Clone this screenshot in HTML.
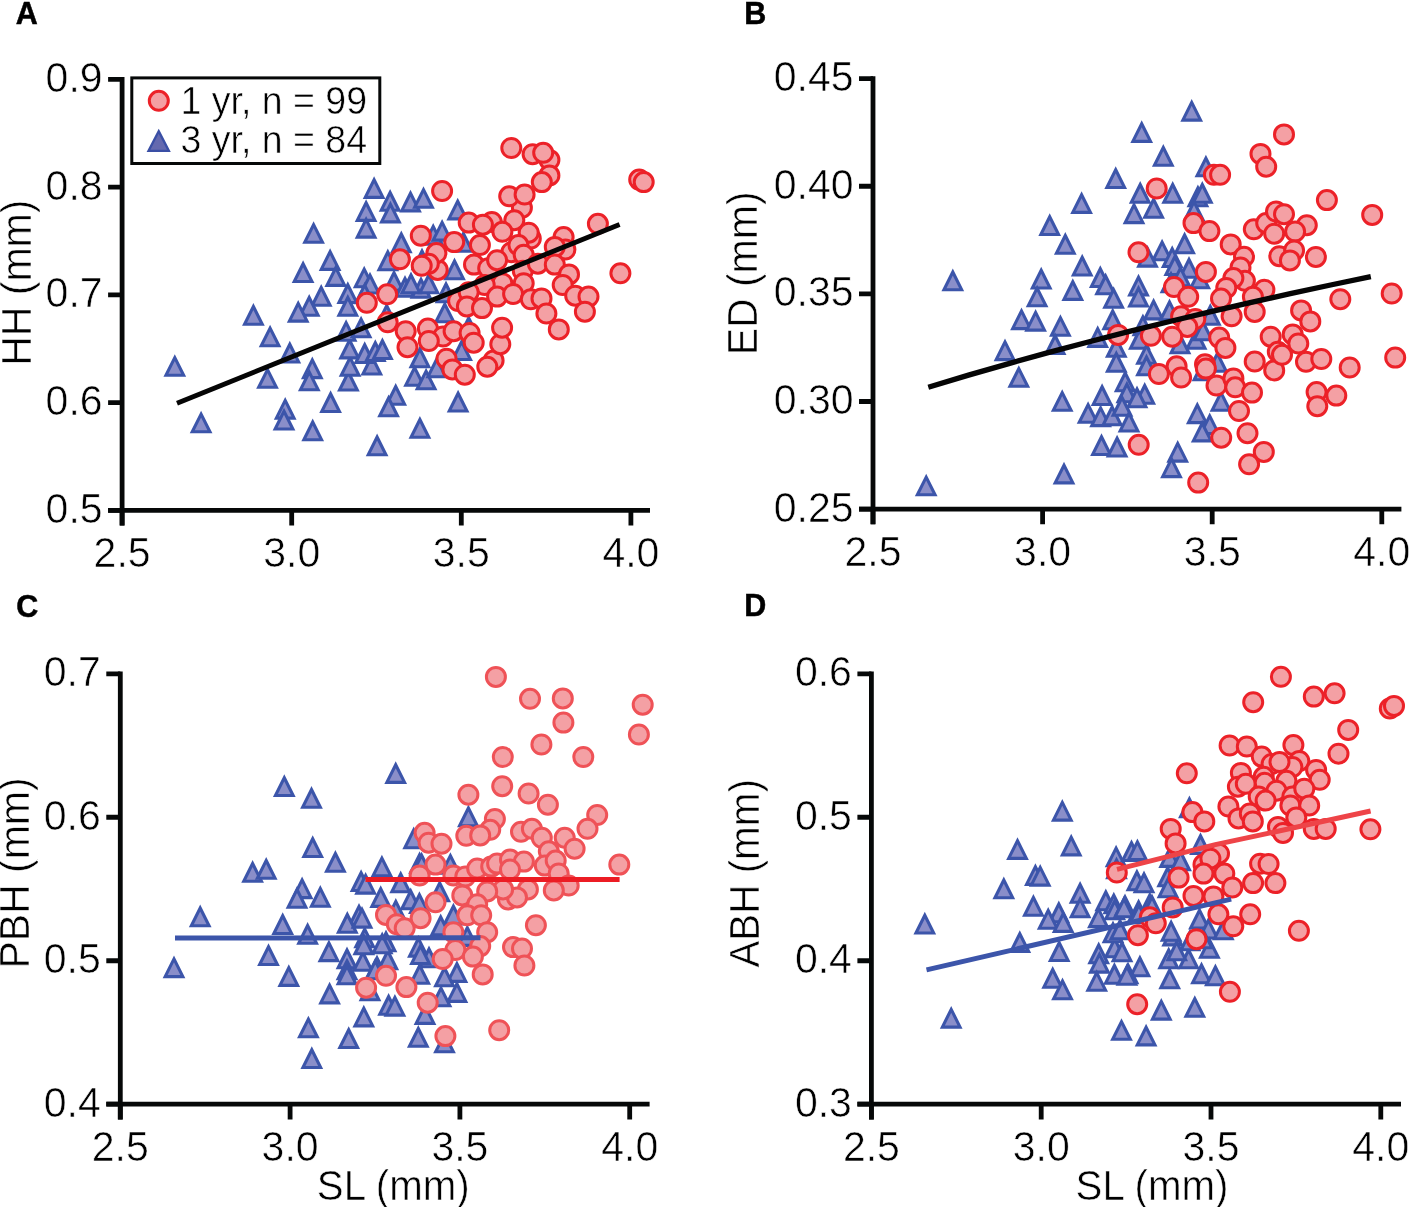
<!DOCTYPE html><html><head><meta charset="utf-8"><style>html,body{margin:0;padding:0;background:#fff;}svg{display:block;will-change:transform}text{font-family:"Liberation Sans", sans-serif;}</style></head><body>
<svg width="1409" height="1207" viewBox="0 0 1409 1207">
<defs><path id="t" d="M0,-8.0 L8.85,9.7 L-8.85,9.7 Z" fill="#8a8ec9" stroke="#3c55aa" stroke-width="3.1" stroke-linejoin="miter"/><circle id="c" r="9.5" fill="#f4a0a4" stroke="#ec2128" stroke-width="3.0"/><circle id="c2" r="9.5" fill="#f4a0a4" stroke="#ef5257" stroke-width="3.0"/></defs>
<rect width="100%" height="100%" fill="#fff"/>
<use href="#t" x="374.1" y="187.7"/>
<use href="#t" x="390.1" y="200.5"/>
<use href="#t" x="366.1" y="210.7"/>
<use href="#t" x="390.4" y="212.2"/>
<use href="#t" x="366.1" y="227.4"/>
<use href="#t" x="313.6" y="232.6"/>
<use href="#t" x="330.1" y="259.7"/>
<use href="#t" x="303.1" y="271.8"/>
<use href="#t" x="335.8" y="275.7"/>
<use href="#t" x="364.2" y="277.1"/>
<use href="#t" x="370" y="283.3"/>
<use href="#t" x="387.8" y="260"/>
<use href="#t" x="394" y="280.7"/>
<use href="#t" x="321.2" y="295.5"/>
<use href="#t" x="309.2" y="305.5"/>
<use href="#t" x="298.2" y="311.4"/>
<use href="#t" x="253.4" y="314.5"/>
<use href="#t" x="347.8" y="292.8"/>
<use href="#t" x="347.8" y="305.5"/>
<use href="#t" x="364.7" y="293.1"/>
<use href="#t" x="174.8" y="365.6"/>
<use href="#t" x="201.1" y="422.1"/>
<use href="#t" x="270.1" y="336.1"/>
<use href="#t" x="289.8" y="352.3"/>
<use href="#t" x="267.5" y="377.6"/>
<use href="#t" x="312.3" y="367.9"/>
<use href="#t" x="309.3" y="380.1"/>
<use href="#t" x="285.2" y="408.4"/>
<use href="#t" x="284" y="419.3"/>
<use href="#t" x="330.6" y="401.8"/>
<use href="#t" x="312.7" y="430"/>
<use href="#t" x="377.1" y="445"/>
<use href="#t" x="395.7" y="394.5"/>
<use href="#t" x="388.6" y="406"/>
<use href="#t" x="348.4" y="380.3"/>
<use href="#t" x="350.1" y="365.6"/>
<use href="#t" x="371.8" y="364.3"/>
<use href="#t" x="349.6" y="348.2"/>
<use href="#t" x="364.7" y="352.8"/>
<use href="#t" x="375.3" y="350.8"/>
<use href="#t" x="382.4" y="348.8"/>
<use href="#t" x="346.1" y="330.6"/>
<use href="#t" x="361.1" y="327.1"/>
<use href="#t" x="410.5" y="201.2"/>
<use href="#t" x="423.5" y="197.6"/>
<use href="#t" x="457.7" y="209.2"/>
<use href="#t" x="401.3" y="242"/>
<use href="#t" x="433.2" y="234.4"/>
<use href="#t" x="442.1" y="230.4"/>
<use href="#t" x="463.4" y="241.5"/>
<use href="#t" x="422" y="259"/>
<use href="#t" x="454.5" y="269"/>
<use href="#t" x="405" y="286.5"/>
<use href="#t" x="421" y="287.5"/>
<use href="#t" x="411" y="283"/>
<use href="#t" x="428.8" y="283"/>
<use href="#t" x="446" y="292"/>
<use href="#t" x="386.7" y="313.7"/>
<use href="#t" x="444.8" y="312.1"/>
<use href="#t" x="468.7" y="326"/>
<use href="#t" x="419.9" y="357"/>
<use href="#t" x="461.6" y="349.8"/>
<use href="#t" x="414.6" y="375.6"/>
<use href="#t" x="426.1" y="379.1"/>
<use href="#t" x="436.8" y="367"/>
<use href="#t" x="458.1" y="401.3"/>
<use href="#t" x="419.9" y="427.5"/>
<use href="#c" x="366.8" y="302.8"/>
<use href="#c" x="387.2" y="294.3"/>
<use href="#c" x="387.7" y="322.3"/>
<use href="#c" x="511.3" y="148"/>
<use href="#c" x="532.6" y="154.2"/>
<use href="#c" x="549.4" y="159.9"/>
<use href="#c" x="543.2" y="152.8"/>
<use href="#c" x="549.4" y="175.4"/>
<use href="#c" x="541.8" y="182.1"/>
<use href="#c" x="442.1" y="191"/>
<use href="#c" x="521.9" y="207.8"/>
<use href="#c" x="509.2" y="196.3"/>
<use href="#c" x="524.6" y="194.5"/>
<use href="#c" x="491.8" y="222"/>
<use href="#c" x="468.7" y="222.6"/>
<use href="#c" x="482.9" y="224.7"/>
<use href="#c" x="514.3" y="220.2"/>
<use href="#c" x="502.4" y="231.8"/>
<use href="#c" x="530.8" y="238.5"/>
<use href="#c" x="528.7" y="232.7"/>
<use href="#c" x="420.8" y="235.7"/>
<use href="#c" x="454.2" y="242.1"/>
<use href="#c" x="479.9" y="245.1"/>
<use href="#c" x="511.3" y="252.2"/>
<use href="#c" x="518.4" y="245.1"/>
<use href="#c" x="597.9" y="223.8"/>
<use href="#c" x="563.6" y="237.1"/>
<use href="#c" x="565.4" y="249.5"/>
<use href="#c" x="554.8" y="246.9"/>
<use href="#c" x="437.7" y="269.9"/>
<use href="#c" x="436.4" y="253.1"/>
<use href="#c" x="399.9" y="259.3"/>
<use href="#c" x="428.8" y="263.7"/>
<use href="#c" x="421.7" y="265.8"/>
<use href="#c" x="474" y="264.6"/>
<use href="#c" x="488.2" y="268.2"/>
<use href="#c" x="497.1" y="260.2"/>
<use href="#c" x="523.7" y="254.8"/>
<use href="#c" x="522.8" y="270.8"/>
<use href="#c" x="537.9" y="263.7"/>
<use href="#c" x="554.8" y="264.6"/>
<use href="#c" x="569" y="274.4"/>
<use href="#c" x="620.4" y="273.3"/>
<use href="#c" x="639.2" y="179.6"/>
<use href="#c" x="643.7" y="182.1"/>
<use href="#c" x="502.4" y="283.2"/>
<use href="#c" x="484.7" y="285"/>
<use href="#c" x="562.7" y="285"/>
<use href="#c" x="523.7" y="283.2"/>
<use href="#c" x="405.7" y="331.2"/>
<use href="#c" x="407.5" y="347.2"/>
<use href="#c" x="427.9" y="328.6"/>
<use href="#c" x="443" y="336.5"/>
<use href="#c" x="428.8" y="341"/>
<use href="#c" x="453.6" y="331.2"/>
<use href="#c" x="469.6" y="333"/>
<use href="#c" x="473.7" y="342.7"/>
<use href="#c" x="446.5" y="358.7"/>
<use href="#c" x="452.4" y="369.4"/>
<use href="#c" x="464.8" y="374.7"/>
<use href="#c" x="493.6" y="360.5"/>
<use href="#c" x="487.3" y="366.7"/>
<use href="#c" x="500.3" y="344.2"/>
<use href="#c" x="502.1" y="327.7"/>
<use href="#c" x="458.1" y="301"/>
<use href="#c" x="468.7" y="292.2"/>
<use href="#c" x="466.9" y="306.4"/>
<use href="#c" x="482" y="308.1"/>
<use href="#c" x="497.1" y="296.6"/>
<use href="#c" x="513.1" y="294"/>
<use href="#c" x="530.8" y="299.3"/>
<use href="#c" x="541.5" y="298.4"/>
<use href="#c" x="546.4" y="313.5"/>
<use href="#c" x="558.8" y="329.4"/>
<use href="#c" x="575.2" y="295.7"/>
<use href="#c" x="588.5" y="296.6"/>
<use href="#c" x="584.9" y="311.7"/>
<path d="M177.0,403.2 L619.6,224.5" fill="none" stroke="#050505" stroke-width="4.9" stroke-linecap="butt" stroke-linejoin="round"/>
<path d="M122.1,77.0 L122.1,525.6 M108.1,510.4 L650,510.4" stroke="#060808" stroke-width="4.8" fill="none"/>
<path d="M108.1,79.3 L122.1,79.3 M108.1,187.075 L122.1,187.075 M108.1,294.84999999999997 L122.1,294.84999999999997 M108.1,402.625 L122.1,402.625 M108.1,510.4 L122.1,510.4 M122.1,510.4 L122.1,525.6 M291.7,510.4 L291.7,525.6 M461.29999999999995,510.4 L461.29999999999995,525.6 M630.9,510.4 L630.9,525.6" stroke="#060808" stroke-width="4.8" fill="none"/>
<text transform="translate(102.60,91.80) scale(1,1.04)" font-size="41" text-anchor="end" fill="#000" stroke="#fff" stroke-width="0.55" class="tx">0.9</text>
<text transform="translate(102.60,199.57) scale(1,1.04)" font-size="41" text-anchor="end" fill="#000" stroke="#fff" stroke-width="0.55" class="tx">0.8</text>
<text transform="translate(102.60,307.35) scale(1,1.04)" font-size="41" text-anchor="end" fill="#000" stroke="#fff" stroke-width="0.55" class="tx">0.7</text>
<text transform="translate(102.60,415.12) scale(1,1.04)" font-size="41" text-anchor="end" fill="#000" stroke="#fff" stroke-width="0.55" class="tx">0.6</text>
<text transform="translate(102.60,522.90) scale(1,1.04)" font-size="41" text-anchor="end" fill="#000" stroke="#fff" stroke-width="0.55" class="tx">0.5</text>
<text transform="translate(122.10,567.00) scale(1,1.04)" font-size="41" text-anchor="middle" fill="#000" stroke="#fff" stroke-width="0.55" class="tx">2.5</text>
<text transform="translate(291.70,567.00) scale(1,1.04)" font-size="41" text-anchor="middle" fill="#000" stroke="#fff" stroke-width="0.55" class="tx">3.0</text>
<text transform="translate(461.30,567.00) scale(1,1.04)" font-size="41" text-anchor="middle" fill="#000" stroke="#fff" stroke-width="0.55" class="tx">3.5</text>
<text transform="translate(630.90,567.00) scale(1,1.04)" font-size="41" text-anchor="middle" fill="#000" stroke="#fff" stroke-width="0.55" class="tx">4.0</text>
<text transform="translate(15.70,24.30) scale(1,1.02)" font-size="30.5" font-weight="bold" fill="#000" stroke="#000" stroke-width="0.5" class="tx">A</text>
<text transform="translate(30.60,282.70) rotate(-90) scale(1,1.04)" font-size="41" text-anchor="middle" fill="#000" stroke="#fff" stroke-width="0.55" class="tx">HH (mm)</text>
<use href="#t" x="1115.7" y="177.8"/>
<use href="#t" x="1081.6" y="202.7"/>
<use href="#t" x="1049.7" y="224.8"/>
<use href="#t" x="1065.3" y="243.5"/>
<use href="#t" x="1191.7" y="110.4"/>
<use href="#t" x="1141.7" y="131.7"/>
<use href="#t" x="1163.3" y="155.5"/>
<use href="#t" x="1205.9" y="166.1"/>
<use href="#t" x="1140.2" y="192.5"/>
<use href="#t" x="1172.7" y="192.5"/>
<use href="#t" x="1153.6" y="207.5"/>
<use href="#t" x="1134" y="212.9"/>
<use href="#t" x="1197.9" y="196"/>
<use href="#t" x="1202.3" y="192.5"/>
<use href="#t" x="1194" y="209.8"/>
<use href="#t" x="1184.6" y="243"/>
<use href="#t" x="1162.1" y="250.1"/>
<use href="#t" x="1172.2" y="256.8"/>
<use href="#t" x="1082.2" y="265.3"/>
<use href="#t" x="1100.3" y="276.8"/>
<use href="#t" x="1105.6" y="284"/>
<use href="#t" x="1072.8" y="289.7"/>
<use href="#t" x="1113.6" y="297.6"/>
<use href="#t" x="1138.5" y="285.2"/>
<use href="#t" x="1138.5" y="296.3"/>
<use href="#t" x="1060.4" y="325.6"/>
<use href="#t" x="1055.1" y="343.8"/>
<use href="#t" x="1112.7" y="319"/>
<use href="#t" x="1097.7" y="336.7"/>
<use href="#t" x="1153.6" y="309.2"/>
<use href="#t" x="1142.9" y="324.9"/>
<use href="#t" x="1169.5" y="310"/>
<use href="#t" x="1139.4" y="338.5"/>
<use href="#t" x="1116.3" y="346.5"/>
<use href="#t" x="1116.3" y="361.5"/>
<use href="#t" x="1146.5" y="353.6"/>
<use href="#t" x="1146.5" y="365"/>
<use href="#t" x="1125.2" y="381"/>
<use href="#t" x="1126.9" y="392.1"/>
<use href="#t" x="1102.1" y="394.8"/>
<use href="#t" x="1144.7" y="393.5"/>
<use href="#t" x="1062.2" y="400.6"/>
<use href="#t" x="1174.8" y="264.8"/>
<use href="#t" x="1189" y="267.5"/>
<use href="#t" x="1147.5" y="256.4"/>
<use href="#t" x="1171" y="282"/>
<use href="#t" x="1180.5" y="276.1"/>
<use href="#t" x="1199.7" y="278.1"/>
<use href="#t" x="1210.3" y="314.5"/>
<use href="#t" x="1196.1" y="338.5"/>
<use href="#t" x="1180" y="343"/>
<use href="#t" x="1203" y="330"/>
<use href="#t" x="1217.4" y="361.5"/>
<use href="#t" x="1203" y="370"/>
<use href="#t" x="1221" y="400.6"/>
<use href="#t" x="952.8" y="280"/>
<use href="#t" x="1041.2" y="278.3"/>
<use href="#t" x="1037.1" y="296.1"/>
<use href="#t" x="1021.5" y="318.9"/>
<use href="#t" x="1035.6" y="320.4"/>
<use href="#t" x="1005" y="349.9"/>
<use href="#t" x="1018.8" y="376.6"/>
<use href="#t" x="1064" y="473.2"/>
<use href="#t" x="926.2" y="485.1"/>
<use href="#t" x="1088.1" y="412.6"/>
<use href="#t" x="1100.6" y="415.9"/>
<use href="#t" x="1112.1" y="415"/>
<use href="#t" x="1137" y="397"/>
<use href="#t" x="1122" y="405.5"/>
<use href="#t" x="1129" y="421.3"/>
<use href="#t" x="1101.5" y="444.8"/>
<use href="#t" x="1117.1" y="446.3"/>
<use href="#t" x="1197.3" y="412.9"/>
<use href="#t" x="1209.7" y="423.9"/>
<use href="#t" x="1202.2" y="431.2"/>
<use href="#t" x="1177.7" y="451.4"/>
<use href="#t" x="1171.5" y="466.9"/>
<use href="#c" x="1284" y="134.4"/>
<use href="#c" x="1260.5" y="153.9"/>
<use href="#c" x="1266.2" y="166.7"/>
<use href="#c" x="1213.9" y="174.8"/>
<use href="#c" x="1220.1" y="174.8"/>
<use href="#c" x="1156.7" y="188.5"/>
<use href="#c" x="1193.5" y="223.1"/>
<use href="#c" x="1209.4" y="231.1"/>
<use href="#c" x="1230.7" y="244.4"/>
<use href="#c" x="1253.8" y="229.3"/>
<use href="#c" x="1266.2" y="223.1"/>
<use href="#c" x="1276" y="211.5"/>
<use href="#c" x="1284" y="214.2"/>
<use href="#c" x="1274.2" y="233.7"/>
<use href="#c" x="1138.5" y="252.3"/>
<use href="#c" x="1326.9" y="200.1"/>
<use href="#c" x="1372.2" y="214.9"/>
<use href="#c" x="1306.8" y="225.2"/>
<use href="#c" x="1295.1" y="231.5"/>
<use href="#c" x="1244" y="256.8"/>
<use href="#c" x="1279.3" y="256.2"/>
<use href="#c" x="1294.1" y="250.5"/>
<use href="#c" x="1315.9" y="256.9"/>
<use href="#c" x="1205.9" y="271.9"/>
<use href="#c" x="1240.5" y="267.5"/>
<use href="#c" x="1244.9" y="280.8"/>
<use href="#c" x="1233.4" y="278.1"/>
<use href="#c" x="1226.3" y="287.9"/>
<use href="#c" x="1221" y="298.6"/>
<use href="#c" x="1264.4" y="289.7"/>
<use href="#c" x="1252.9" y="296.8"/>
<use href="#c" x="1254.7" y="311.9"/>
<use href="#c" x="1231.6" y="316.3"/>
<use href="#c" x="1174" y="287"/>
<use href="#c" x="1188.2" y="296.8"/>
<use href="#c" x="1181.1" y="316.3"/>
<use href="#c" x="1195.3" y="319"/>
<use href="#c" x="1187.3" y="326.9"/>
<use href="#c" x="1118.1" y="334.9"/>
<use href="#c" x="1150.9" y="335.8"/>
<use href="#c" x="1172.2" y="336.7"/>
<use href="#c" x="1219.2" y="337.6"/>
<use href="#c" x="1225.4" y="347.9"/>
<use href="#c" x="1270.7" y="336.7"/>
<use href="#c" x="1292.7" y="334.4"/>
<use href="#c" x="1277.8" y="351.8"/>
<use href="#c" x="1254.7" y="361.5"/>
<use href="#c" x="1274.2" y="370.4"/>
<use href="#c" x="1158.9" y="374"/>
<use href="#c" x="1176.6" y="366.3"/>
<use href="#c" x="1181.1" y="377.5"/>
<use href="#c" x="1205" y="364.2"/>
<use href="#c" x="1205.9" y="368.6"/>
<use href="#c" x="1216.5" y="385.5"/>
<use href="#c" x="1233.4" y="378.4"/>
<use href="#c" x="1235.2" y="387.3"/>
<use href="#c" x="1252" y="392.6"/>
<use href="#c" x="1239" y="411"/>
<use href="#c" x="1289.9" y="260.4"/>
<use href="#c" x="1301.1" y="310.4"/>
<use href="#c" x="1310.3" y="321.4"/>
<use href="#c" x="1340.3" y="299.2"/>
<use href="#c" x="1391.7" y="293.5"/>
<use href="#c" x="1298.3" y="343.5"/>
<use href="#c" x="1282" y="354.8"/>
<use href="#c" x="1306" y="361.8"/>
<use href="#c" x="1321.3" y="359"/>
<use href="#c" x="1349.7" y="367.5"/>
<use href="#c" x="1395.2" y="357.6"/>
<use href="#c" x="1316.6" y="392.1"/>
<use href="#c" x="1336.3" y="395.6"/>
<use href="#c" x="1317.3" y="406.2"/>
<use href="#c" x="1138.7" y="444.8"/>
<use href="#c" x="1221.2" y="437.7"/>
<use href="#c" x="1247.5" y="433.2"/>
<use href="#c" x="1263.8" y="451.9"/>
<use href="#c" x="1249.1" y="464.3"/>
<use href="#c" x="1198.2" y="482.6"/>
<path d="M928.3,387.2 L968.5,375.1 L1008.8,363.6 L1049.0,352.4 L1089.2,341.7 L1129.4,331.4 L1169.7,321.5 L1209.9,311.9 L1250.1,302.6 L1290.3,293.7 L1330.6,285.0 L1370.8,276.6" fill="none" stroke="#050505" stroke-width="5.3" stroke-linecap="butt" stroke-linejoin="round"/>
<path d="M873.0,76.3 L873.0,524.3000000000001 M859.0,509.1 L1401.4,509.1" stroke="#060808" stroke-width="4.8" fill="none"/>
<path d="M859.0,78.6 L873.0,78.6 M859.0,186.225 L873.0,186.225 M859.0,293.85 L873.0,293.85 M859.0,401.475 L873.0,401.475 M859.0,509.1 L873.0,509.1 M873.0,509.1 L873.0,524.3000000000001 M1042.6,509.1 L1042.6,524.3000000000001 M1212.2,509.1 L1212.2,524.3000000000001 M1381.8,509.1 L1381.8,524.3000000000001" stroke="#060808" stroke-width="4.8" fill="none"/>
<text transform="translate(853.50,91.10) scale(1,1.04)" font-size="41" text-anchor="end" fill="#000" stroke="#fff" stroke-width="0.55" class="tx">0.45</text>
<text transform="translate(853.50,198.72) scale(1,1.04)" font-size="41" text-anchor="end" fill="#000" stroke="#fff" stroke-width="0.55" class="tx">0.40</text>
<text transform="translate(853.50,306.35) scale(1,1.04)" font-size="41" text-anchor="end" fill="#000" stroke="#fff" stroke-width="0.55" class="tx">0.35</text>
<text transform="translate(853.50,413.98) scale(1,1.04)" font-size="41" text-anchor="end" fill="#000" stroke="#fff" stroke-width="0.55" class="tx">0.30</text>
<text transform="translate(853.50,521.60) scale(1,1.04)" font-size="41" text-anchor="end" fill="#000" stroke="#fff" stroke-width="0.55" class="tx">0.25</text>
<text transform="translate(873.00,565.70) scale(1,1.04)" font-size="41" text-anchor="middle" fill="#000" stroke="#fff" stroke-width="0.55" class="tx">2.5</text>
<text transform="translate(1042.60,565.70) scale(1,1.04)" font-size="41" text-anchor="middle" fill="#000" stroke="#fff" stroke-width="0.55" class="tx">3.0</text>
<text transform="translate(1212.20,565.70) scale(1,1.04)" font-size="41" text-anchor="middle" fill="#000" stroke="#fff" stroke-width="0.55" class="tx">3.5</text>
<text transform="translate(1381.80,565.70) scale(1,1.04)" font-size="41" text-anchor="middle" fill="#000" stroke="#fff" stroke-width="0.55" class="tx">4.0</text>
<text transform="translate(744.30,24.40) scale(1,1.02)" font-size="30.5" font-weight="bold" fill="#000" stroke="#000" stroke-width="0.5" class="tx">B</text>
<text transform="translate(756.80,273.40) rotate(-90) scale(1,1.04)" font-size="41" text-anchor="middle" fill="#000" stroke="#fff" stroke-width="0.55" class="tx">ED (mm)</text>
<use href="#t" x="284.3" y="785.8"/>
<use href="#t" x="311.5" y="797.5"/>
<use href="#t" x="395.7" y="772.7"/>
<use href="#t" x="468.4" y="816"/>
<use href="#t" x="312.7" y="846.8"/>
<use href="#t" x="335.4" y="861.5"/>
<use href="#t" x="252.6" y="871.5"/>
<use href="#t" x="266.2" y="868.5"/>
<use href="#t" x="381.9" y="866.1"/>
<use href="#t" x="302.1" y="887.9"/>
<use href="#t" x="297" y="897.5"/>
<use href="#t" x="320.3" y="896.5"/>
<use href="#t" x="200.2" y="916"/>
<use href="#t" x="282.7" y="923.8"/>
<use href="#t" x="307.6" y="933.5"/>
<use href="#t" x="268.5" y="954.8"/>
<use href="#t" x="174" y="966.9"/>
<use href="#t" x="288.8" y="975.7"/>
<use href="#t" x="328.9" y="950.9"/>
<use href="#t" x="361.1" y="880.8"/>
<use href="#t" x="365.6" y="883.4"/>
<use href="#t" x="380.7" y="896.7"/>
<use href="#t" x="359" y="914.5"/>
<use href="#t" x="347.3" y="922.5"/>
<use href="#t" x="364.7" y="937.1"/>
<use href="#t" x="347" y="958"/>
<use href="#t" x="362.9" y="960.6"/>
<use href="#t" x="347" y="969"/>
<use href="#t" x="386" y="941"/>
<use href="#t" x="387.8" y="959"/>
<use href="#t" x="377" y="966"/>
<use href="#t" x="413.7" y="838"/>
<use href="#t" x="419.6" y="862.6"/>
<use href="#t" x="450.4" y="863.6"/>
<use href="#t" x="400.7" y="882"/>
<use href="#t" x="410.7" y="899"/>
<use href="#t" x="453.4" y="914.3"/>
<use href="#t" x="395.8" y="909.4"/>
<use href="#t" x="362" y="917.4"/>
<use href="#t" x="421.6" y="863.3"/>
<use href="#t" x="419.4" y="902.7"/>
<use href="#t" x="439.7" y="891"/>
<use href="#t" x="440.7" y="925"/>
<use href="#t" x="382.2" y="943"/>
<use href="#t" x="418.4" y="946.4"/>
<use href="#t" x="467.3" y="935.7"/>
<use href="#t" x="429" y="957"/>
<use href="#t" x="420.5" y="953.8"/>
<use href="#t" x="329.6" y="993.2"/>
<use href="#t" x="308.4" y="1027.1"/>
<use href="#t" x="311.8" y="1057.8"/>
<use href="#t" x="348.7" y="1037.8"/>
<use href="#t" x="363.8" y="1016.2"/>
<use href="#t" x="388.6" y="1004.5"/>
<use href="#t" x="394.9" y="1005.4"/>
<use href="#t" x="370" y="990"/>
<use href="#t" x="347" y="974"/>
<use href="#t" x="375.3" y="969"/>
<use href="#t" x="363.8" y="944"/>
<use href="#t" x="419.7" y="973.5"/>
<use href="#t" x="456.9" y="971.7"/>
<use href="#t" x="444.5" y="976"/>
<use href="#t" x="456.9" y="991.7"/>
<use href="#t" x="441" y="996.1"/>
<use href="#t" x="425" y="1013.7"/>
<use href="#t" x="418.3" y="1036.5"/>
<use href="#t" x="444.5" y="1042.1"/>
<use href="#c2" x="495.9" y="676.9"/>
<use href="#c2" x="530" y="698.8"/>
<use href="#c2" x="562.8" y="698.4"/>
<use href="#c2" x="563.4" y="722.6"/>
<use href="#c2" x="541.4" y="744.5"/>
<use href="#c2" x="502.8" y="757"/>
<use href="#c2" x="583.3" y="757"/>
<use href="#c2" x="642.7" y="704.7"/>
<use href="#c2" x="638.9" y="734.5"/>
<use href="#c2" x="502.2" y="786.2"/>
<use href="#c2" x="468.4" y="794.7"/>
<use href="#c2" x="528.6" y="793.5"/>
<use href="#c2" x="547.9" y="804.7"/>
<use href="#c2" x="494.9" y="819"/>
<use href="#c2" x="597.2" y="815"/>
<use href="#c2" x="587.5" y="828.8"/>
<use href="#c2" x="490.2" y="829.8"/>
<use href="#c2" x="466.3" y="835.8"/>
<use href="#c2" x="480.2" y="835.4"/>
<use href="#c2" x="521" y="831.8"/>
<use href="#c2" x="531.9" y="828.8"/>
<use href="#c2" x="541.8" y="837.8"/>
<use href="#c2" x="564.7" y="837.8"/>
<use href="#c2" x="574.6" y="848.7"/>
<use href="#c2" x="548.8" y="851.3"/>
<use href="#c2" x="424.6" y="832.8"/>
<use href="#c2" x="428.6" y="842.7"/>
<use href="#c2" x="441.5" y="843.7"/>
<use href="#c2" x="435.5" y="864.6"/>
<use href="#c2" x="419.6" y="875.5"/>
<use href="#c2" x="453.4" y="875.5"/>
<use href="#c2" x="465.3" y="876.5"/>
<use href="#c2" x="477.2" y="868.6"/>
<use href="#c2" x="491.2" y="866.6"/>
<use href="#c2" x="497.1" y="863.6"/>
<use href="#c2" x="510" y="859.6"/>
<use href="#c2" x="523.9" y="861.6"/>
<use href="#c2" x="510" y="869.6"/>
<use href="#c2" x="544.8" y="865.6"/>
<use href="#c2" x="555.7" y="860.6"/>
<use href="#c2" x="558.7" y="873.5"/>
<use href="#c2" x="568.7" y="885.5"/>
<use href="#c2" x="553.8" y="890.4"/>
<use href="#c2" x="527.9" y="889.4"/>
<use href="#c2" x="508" y="899.4"/>
<use href="#c2" x="517" y="897.4"/>
<use href="#c2" x="503.1" y="889.4"/>
<use href="#c2" x="487.2" y="891.4"/>
<use href="#c2" x="462.3" y="895.4"/>
<use href="#c2" x="435.5" y="902.3"/>
<use href="#c2" x="477.2" y="904.3"/>
<use href="#c2" x="386" y="914.9"/>
<use href="#c2" x="396.8" y="924.2"/>
<use href="#c2" x="404.7" y="928.2"/>
<use href="#c2" x="420.6" y="918.2"/>
<use href="#c2" x="467.3" y="915.3"/>
<use href="#c2" x="481.2" y="915.3"/>
<use href="#c2" x="535.9" y="925.2"/>
<use href="#c2" x="487.2" y="932.2"/>
<use href="#c2" x="453.4" y="932.2"/>
<use href="#c2" x="619.3" y="864.6"/>
<use href="#c2" x="480.2" y="946.1"/>
<use href="#c2" x="513" y="947.1"/>
<use href="#c2" x="522" y="948.6"/>
<use href="#c2" x="455.4" y="950"/>
<use href="#c2" x="386" y="975.8"/>
<use href="#c2" x="366.1" y="987.7"/>
<use href="#c2" x="472.9" y="956.6"/>
<use href="#c2" x="524.4" y="965.5"/>
<use href="#c2" x="442.7" y="959"/>
<use href="#c2" x="482.7" y="974.4"/>
<use href="#c2" x="406.4" y="987.1"/>
<use href="#c2" x="427.7" y="1002.7"/>
<use href="#c2" x="445.4" y="1036.1"/>
<use href="#c2" x="499.2" y="1030.2"/>
<path d="M175.0,938 L480.5,937.8" fill="none" stroke="#3c55aa" stroke-width="5.0" stroke-linecap="butt" stroke-linejoin="round"/>
<path d="M365.5,879.6 L619.6,879.6" fill="none" stroke="#ec1c24" stroke-width="5.0" stroke-linecap="butt" stroke-linejoin="round"/>
<path d="M120.3,671.5 L120.3,1119.4 M106.3,1104.2 L649.6,1104.2" stroke="#060808" stroke-width="4.8" fill="none"/>
<path d="M106.3,673.8 L120.3,673.8 M106.3,817.2666666666667 L120.3,817.2666666666667 M106.3,960.7333333333333 L120.3,960.7333333333333 M106.3,1104.2 L120.3,1104.2 M120.3,1104.2 L120.3,1119.4 M290.1,1104.2 L290.1,1119.4 M459.90000000000003,1104.2 L459.90000000000003,1119.4 M629.7,1104.2 L629.7,1119.4" stroke="#060808" stroke-width="4.8" fill="none"/>
<text transform="translate(100.80,686.30) scale(1,1.04)" font-size="41" text-anchor="end" fill="#000" stroke="#fff" stroke-width="0.55" class="tx">0.7</text>
<text transform="translate(100.80,829.77) scale(1,1.04)" font-size="41" text-anchor="end" fill="#000" stroke="#fff" stroke-width="0.55" class="tx">0.6</text>
<text transform="translate(100.80,973.23) scale(1,1.04)" font-size="41" text-anchor="end" fill="#000" stroke="#fff" stroke-width="0.55" class="tx">0.5</text>
<text transform="translate(100.80,1116.70) scale(1,1.04)" font-size="41" text-anchor="end" fill="#000" stroke="#fff" stroke-width="0.55" class="tx">0.4</text>
<text transform="translate(120.30,1160.80) scale(1,1.04)" font-size="41" text-anchor="middle" fill="#000" stroke="#fff" stroke-width="0.55" class="tx">2.5</text>
<text transform="translate(290.10,1160.80) scale(1,1.04)" font-size="41" text-anchor="middle" fill="#000" stroke="#fff" stroke-width="0.55" class="tx">3.0</text>
<text transform="translate(459.90,1160.80) scale(1,1.04)" font-size="41" text-anchor="middle" fill="#000" stroke="#fff" stroke-width="0.55" class="tx">3.5</text>
<text transform="translate(629.70,1160.80) scale(1,1.04)" font-size="41" text-anchor="middle" fill="#000" stroke="#fff" stroke-width="0.55" class="tx">4.0</text>
<text transform="translate(16.20,616.70) scale(1,1.02)" font-size="30.5" font-weight="bold" fill="#000" stroke="#000" stroke-width="0.5" class="tx">C</text>
<text transform="translate(29.40,873.00) rotate(-90) scale(1,1.04)" font-size="41" text-anchor="middle" fill="#000" stroke="#fff" stroke-width="0.55" class="tx">PBH (mm)</text>
<text transform="translate(393.30,1199.80) scale(1,1.04)" font-size="40.3" text-anchor="middle" fill="#000" stroke="#fff" stroke-width="0.55" class="tx">SL (mm)</text>
<use href="#t" x="1189.4" y="807"/>
<use href="#t" x="1062.3" y="810.4"/>
<use href="#t" x="1017.5" y="848.7"/>
<use href="#t" x="1071.2" y="845.2"/>
<use href="#t" x="1035.4" y="874.7"/>
<use href="#t" x="1040.2" y="875.4"/>
<use href="#t" x="1003.8" y="888"/>
<use href="#t" x="924.8" y="923.3"/>
<use href="#t" x="1033.4" y="905.5"/>
<use href="#t" x="1058.8" y="912"/>
<use href="#t" x="1048.2" y="918.5"/>
<use href="#t" x="1063.2" y="921.7"/>
<use href="#t" x="1080.1" y="892.5"/>
<use href="#t" x="1080.1" y="907.1"/>
<use href="#t" x="1105.8" y="900"/>
<use href="#t" x="1113.8" y="903.1"/>
<use href="#t" x="1114.7" y="909"/>
<use href="#t" x="1125" y="904.9"/>
<use href="#t" x="1098.4" y="916.9"/>
<use href="#t" x="1116.1" y="856.1"/>
<use href="#t" x="1131.5" y="850.8"/>
<use href="#t" x="1137.4" y="849.9"/>
<use href="#t" x="1136.9" y="880"/>
<use href="#t" x="1144" y="882"/>
<use href="#t" x="1116.5" y="868"/>
<use href="#t" x="1019.8" y="941.7"/>
<use href="#t" x="1059.2" y="950.8"/>
<use href="#t" x="1114.7" y="947"/>
<use href="#t" x="1098.7" y="953"/>
<use href="#t" x="1113" y="932"/>
<use href="#t" x="1120" y="929"/>
<use href="#t" x="1138.6" y="910"/>
<use href="#t" x="1200.5" y="843.8"/>
<use href="#t" x="1169.7" y="856.7"/>
<use href="#t" x="1180.6" y="860"/>
<use href="#t" x="1167.7" y="876"/>
<use href="#t" x="1168" y="887"/>
<use href="#t" x="1124" y="907"/>
<use href="#t" x="1149.8" y="903"/>
<use href="#t" x="1138.9" y="913"/>
<use href="#t" x="1199.5" y="918.3"/>
<use href="#t" x="1208.4" y="928.3"/>
<use href="#t" x="1223.3" y="929"/>
<use href="#t" x="1172.7" y="935.2"/>
<use href="#t" x="1209.4" y="947.6"/>
<use href="#t" x="1168.7" y="958"/>
<use href="#t" x="1188.6" y="958"/>
<use href="#t" x="1139.9" y="966"/>
<use href="#t" x="1122" y="951"/>
<use href="#t" x="1201.5" y="973"/>
<use href="#t" x="1215.4" y="975"/>
<use href="#t" x="1169.7" y="978"/>
<use href="#t" x="1128" y="973"/>
<use href="#t" x="1152" y="905"/>
<use href="#t" x="1171.1" y="930.5"/>
<use href="#t" x="1190" y="940"/>
<use href="#t" x="1203" y="938"/>
<use href="#t" x="1052.7" y="977.5"/>
<use href="#t" x="1062.5" y="989"/>
<use href="#t" x="951.2" y="1017.4"/>
<use href="#t" x="1121.5" y="1029.6"/>
<use href="#t" x="1099.4" y="962.4"/>
<use href="#t" x="1096.7" y="980.6"/>
<use href="#t" x="1114.4" y="973.5"/>
<use href="#t" x="1126.9" y="974.6"/>
<use href="#t" x="1176.7" y="950"/>
<use href="#t" x="1161.3" y="1009.4"/>
<use href="#t" x="1194.8" y="1006.6"/>
<use href="#t" x="1146.1" y="1035.2"/>
<use href="#c" x="1280.9" y="676.8"/>
<use href="#c" x="1253.2" y="702.2"/>
<use href="#c" x="1313.8" y="696.6"/>
<use href="#c" x="1334.6" y="693.3"/>
<use href="#c" x="1389.8" y="708.5"/>
<use href="#c" x="1394" y="705.9"/>
<use href="#c" x="1348.2" y="729.9"/>
<use href="#c" x="1338.5" y="753.7"/>
<use href="#c" x="1229.6" y="745.5"/>
<use href="#c" x="1246.8" y="746.5"/>
<use href="#c" x="1293.4" y="745.1"/>
<use href="#c" x="1261.7" y="756.6"/>
<use href="#c" x="1271.6" y="764"/>
<use href="#c" x="1299.3" y="761"/>
<use href="#c" x="1292.4" y="767"/>
<use href="#c" x="1279.5" y="762"/>
<use href="#c" x="1316.1" y="769.9"/>
<use href="#c" x="1319.7" y="779.8"/>
<use href="#c" x="1240.9" y="772.9"/>
<use href="#c" x="1237.9" y="786.7"/>
<use href="#c" x="1245.8" y="783.8"/>
<use href="#c" x="1263.7" y="776.8"/>
<use href="#c" x="1264.7" y="782.8"/>
<use href="#c" x="1286.4" y="780.8"/>
<use href="#c" x="1276.5" y="790.7"/>
<use href="#c" x="1258.7" y="796.6"/>
<use href="#c" x="1265.6" y="800.6"/>
<use href="#c" x="1292.4" y="796.6"/>
<use href="#c" x="1304.3" y="788.7"/>
<use href="#c" x="1290.4" y="805.5"/>
<use href="#c" x="1309.2" y="805.5"/>
<use href="#c" x="1296.3" y="817.4"/>
<use href="#c" x="1186.8" y="773.3"/>
<use href="#c" x="1192.4" y="812.1"/>
<use href="#c" x="1204.3" y="821.4"/>
<use href="#c" x="1228.4" y="806.5"/>
<use href="#c" x="1238.5" y="818.4"/>
<use href="#c" x="1249.8" y="813.5"/>
<use href="#c" x="1252.8" y="821.4"/>
<use href="#c" x="1170.7" y="828.9"/>
<use href="#c" x="1175.6" y="843.4"/>
<use href="#c" x="1278" y="826.9"/>
<use href="#c" x="1283" y="832.9"/>
<use href="#c" x="1313.8" y="828.9"/>
<use href="#c" x="1325.7" y="828.9"/>
<use href="#c" x="1370.4" y="829.3"/>
<use href="#c" x="1219" y="853.7"/>
<use href="#c" x="1203.5" y="864.6"/>
<use href="#c" x="1210.4" y="858.7"/>
<use href="#c" x="1203.5" y="873.6"/>
<use href="#c" x="1224.3" y="873.6"/>
<use href="#c" x="1178.6" y="877.6"/>
<use href="#c" x="1232.3" y="887.5"/>
<use href="#c" x="1253.1" y="883.1"/>
<use href="#c" x="1260.1" y="863.7"/>
<use href="#c" x="1268.6" y="864"/>
<use href="#c" x="1275.4" y="883.1"/>
<use href="#c" x="1193.5" y="895.9"/>
<use href="#c" x="1213.4" y="896.4"/>
<use href="#c" x="1172.7" y="907.4"/>
<use href="#c" x="1149.8" y="917.3"/>
<use href="#c" x="1155.8" y="923.3"/>
<use href="#c" x="1218.4" y="914.3"/>
<use href="#c" x="1233.3" y="926.3"/>
<use href="#c" x="1250.2" y="914.3"/>
<use href="#c" x="1137.9" y="935.2"/>
<use href="#c" x="1196.5" y="939.2"/>
<use href="#c" x="1298.9" y="930.8"/>
<use href="#c" x="1116.8" y="872.5"/>
<use href="#c" x="1137.2" y="1004.2"/>
<use href="#c" x="1229.9" y="991.8"/>
<path d="M926.5,969.9 L1231.2,899.2" fill="none" stroke="#3c55aa" stroke-width="4.9" stroke-linecap="butt" stroke-linejoin="round"/>
<path d="M1117.0,869.3 L1215.3,844.6 L1278.9,831 L1370.6,811.0" fill="none" stroke="#ee4448" stroke-width="4.9" stroke-linecap="butt" stroke-linejoin="round"/>
<path d="M871.4,671.5 L871.4,1119.4 M857.4,1104.2 L1401,1104.2" stroke="#060808" stroke-width="4.8" fill="none"/>
<path d="M857.4,673.8 L871.4,673.8 M857.4,817.2666666666667 L871.4,817.2666666666667 M857.4,960.7333333333333 L871.4,960.7333333333333 M857.4,1104.2 L871.4,1104.2 M871.4,1104.2 L871.4,1119.4 M1041.2,1104.2 L1041.2,1119.4 M1211.0,1104.2 L1211.0,1119.4 M1380.8,1104.2 L1380.8,1119.4" stroke="#060808" stroke-width="4.8" fill="none"/>
<text transform="translate(851.90,686.30) scale(1,1.04)" font-size="41" text-anchor="end" fill="#000" stroke="#fff" stroke-width="0.55" class="tx">0.6</text>
<text transform="translate(851.90,829.77) scale(1,1.04)" font-size="41" text-anchor="end" fill="#000" stroke="#fff" stroke-width="0.55" class="tx">0.5</text>
<text transform="translate(851.90,973.23) scale(1,1.04)" font-size="41" text-anchor="end" fill="#000" stroke="#fff" stroke-width="0.55" class="tx">0.4</text>
<text transform="translate(851.90,1116.70) scale(1,1.04)" font-size="41" text-anchor="end" fill="#000" stroke="#fff" stroke-width="0.55" class="tx">0.3</text>
<text transform="translate(871.40,1160.80) scale(1,1.04)" font-size="41" text-anchor="middle" fill="#000" stroke="#fff" stroke-width="0.55" class="tx">2.5</text>
<text transform="translate(1041.20,1160.80) scale(1,1.04)" font-size="41" text-anchor="middle" fill="#000" stroke="#fff" stroke-width="0.55" class="tx">3.0</text>
<text transform="translate(1211.00,1160.80) scale(1,1.04)" font-size="41" text-anchor="middle" fill="#000" stroke="#fff" stroke-width="0.55" class="tx">3.5</text>
<text transform="translate(1380.80,1160.80) scale(1,1.04)" font-size="41" text-anchor="middle" fill="#000" stroke="#fff" stroke-width="0.55" class="tx">4.0</text>
<text transform="translate(744.30,616.10) scale(1,1.02)" font-size="30.5" font-weight="bold" fill="#000" stroke="#000" stroke-width="0.5" class="tx">D</text>
<text transform="translate(758.80,873.40) rotate(-90) scale(1,1.04)" font-size="40.4" text-anchor="middle" fill="#000" stroke="#fff" stroke-width="0.55" class="tx">ABH (mm)</text>
<text transform="translate(1152.00,1199.80) scale(1,1.04)" font-size="40.3" text-anchor="middle" fill="#000" stroke="#fff" stroke-width="0.55" class="tx">SL (mm)</text>
<rect x="131.8" y="77.9" width="248" height="85.6" fill="#fff" stroke="#060808" stroke-width="3"/>
<use href="#c" x="158.8" y="100.8"/>
<path transform="translate(158.7,140.45)" d="M0,-9.3 L10.2,10.4 L-10.2,10.4 Z" fill="#6469af" stroke="#3a4fa5" stroke-width="2.3" stroke-linejoin="miter"/>
<text transform="translate(180.50,114.30) scale(1,1.04)" font-size="37.5" fill="#000" stroke="#fff" stroke-width="0.55" class="tx">1 yr, n = 99</text>
<text transform="translate(180.50,153.40) scale(1,1.04)" font-size="37.5" fill="#000" stroke="#fff" stroke-width="0.55" class="tx">3 yr, n = 84</text>
</svg></body></html>
